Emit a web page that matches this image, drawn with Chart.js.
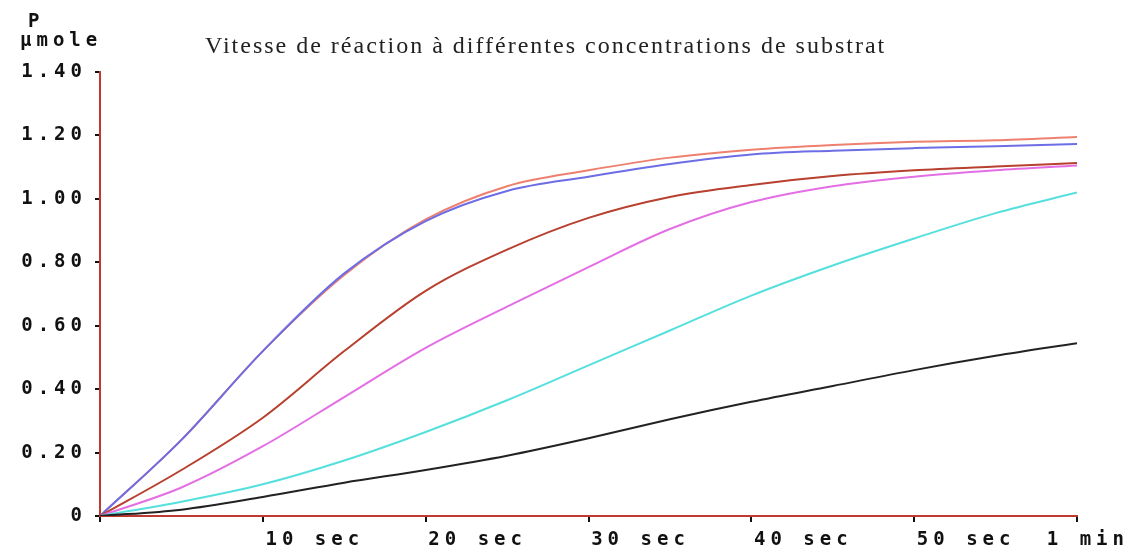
<!DOCTYPE html>
<html>
<head>
<meta charset="utf-8">
<script src="https://cdn.jsdelivr.net/npm/chart.js@4/dist/chart.umd.min.js"></script>
<style>
  html, body { margin: 0; background: #fff; }
</style>
</head>
<body>
<canvas id="chart" width="1143" height="557"></canvas>
<script>
// time in seconds
const times = [0, 5, 10, 15, 20, 25, 30, 35, 40, 45, 50, 55, 60]

// product formed (µmole), one curve per substrate concentration
const curveOrange = [0, 0.24, 0.52, 0.76, 0.935, 1.04, 1.09, 1.13, 1.155, 1.17, 1.18, 1.185, 1.195]
const curveBlue = [0, 0.24, 0.52, 0.765, 0.93, 1.025, 1.07, 1.11, 1.14, 1.152, 1.16, 1.166, 1.173]
const curveBrown = [0, 0.145, 0.31, 0.52, 0.71, 0.84, 0.94, 1.006, 1.044, 1.072, 1.09, 1.102, 1.113]
const curveMagenta = [0, 0.09, 0.22, 0.375, 0.53, 0.66, 0.785, 0.905, 0.99, 1.04, 1.07, 1.09, 1.105]
const curveCyan = [0, 0.045, 0.1, 0.175, 0.265, 0.365, 0.475, 0.585, 0.695, 0.79, 0.875, 0.955, 1.02]
const curveBlack = [0, 0.02, 0.06, 0.105, 0.145, 0.19, 0.245, 0.305, 0.36, 0.41, 0.46, 0.505, 0.545]

const xTickLabels = ['', '10 sec', '20 sec', '30 sec', '40 sec', '50 sec', '1 min']
const yTickLabels = ['0', '0.20', '0.40', '0.60', '0.80', '1.00', '1.20', '1.40']

const title = 'Vitesse de réaction à différentes concentrations de substrat'

const tickFont = { family: '"DejaVu Sans Mono"', size: 19, weight: 'bold' }

function series (values) {
  return values.map((v, i) => ({ x: times[i], y: v }))
}

function line (values, color) {
  return {
    data: series(values),
    borderColor: color,
    borderWidth: 2,
    pointRadius: 0,
    fill: false,
    cubicInterpolationMode: 'monotone'
  }
}

const textPlugin = {
  id: 'texts',
  beforeDraw (chart) {
    chart.ctx.letterSpacing = '5px'
  },
  afterDraw (chart) {
    const ctx = chart.ctx
    ctx.save()
    ctx.letterSpacing = '2px'
    ctx.fillStyle = '#222'
    ctx.textBaseline = 'alphabetic'
    ctx.font = '24px "Liberation Serif"'
    ctx.fillText(title, 205, 53)
    ctx.letterSpacing = '5px'
    ctx.font = 'bold 19px "DejaVu Sans Mono"'
    ctx.fillStyle = '#111'
    ctx.fillText('P', 28, 27)
    ctx.fillText('µmole', 20, 46)
    ctx.restore()
  }
}

new Chart(document.getElementById('chart').getContext('2d'), {
  type: 'line',
  data: {
    datasets: [
      line(curveBlack, '#222222'),
      line(curveCyan, '#55e0dd'),
      line(curveMagenta, '#e46ee4'),
      line(curveBrown, '#b8402e'),
      line(curveBlue, '#6d6de6'),
      line(curveOrange, '#ee8070')
    ]
  },
  options: {
    responsive: false,
    animation: false,
    layout: { padding: { left: 0, right: 66, top: 72, bottom: 0 } },
    plugins: { legend: { display: false }, tooltip: { enabled: false } },
    scales: {
      x: {
        type: 'linear',
        min: 0,
        max: 60,
        border: { color: '#c0392f', width: 2 },
        grid: { drawOnChartArea: false, color: '#111', tickLength: 6, lineWidth: 2 },
        ticks: {
          stepSize: 10,
          align: 'inner',
          labelOffset: 52,
          padding: 7,
          color: '#111',
          font: tickFont,
          maxRotation: 0,
          autoSkip: false,
          callback: (v) => xTickLabels[Math.round(v / 10)]
        },
        afterFit: (scale) => { scale.height = 41 }
      },
      y: {
        min: 0,
        max: 1.4,
        border: { color: '#c0392f', width: 2 },
        grid: { drawOnChartArea: false, color: '#111', tickLength: 5, lineWidth: 2 },
        ticks: {
          stepSize: 0.2,
          padding: 8,
          color: '#111',
          font: tickFont,
          callback: (v) => yTickLabels[Math.round(v / 0.2)]
        },
        afterFit: (scale) => { scale.width = 100 }
      }
    }
  },
  plugins: [textPlugin]
})
</script>
</body>
</html>
